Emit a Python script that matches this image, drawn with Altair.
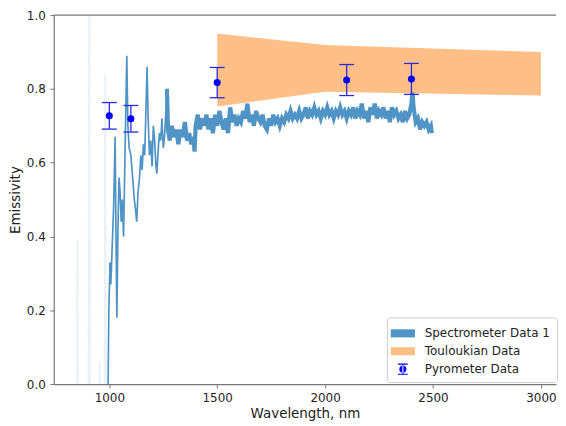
import altair as alt
import pandas as pd

# Spectrometer trace (wavelength nm, emissivity)
spec_wl = [850, 852, 854, 904, 907, 910, 952, 955, 958, 978, 981, 984,
           994, 998, 1003, 1007, 1012, 1020, 1027, 1031, 1035, 1040, 1045, 1050, 1055, 1060,
           1066, 1072, 1081, 1086, 1092, 1100, 1108, 1116, 1122, 1127, 1133, 1140, 1146, 1152,
           1158, 1164, 1170, 1175, 1180, 1186, 1192, 1198, 1204, 1210, 1215, 1220, 1226, 1232,
           1238, 1244, 1250, 1256, 1262, 1267, 1272,
           1280, 1290, 1300, 1310, 1320, 1330, 1340, 1350, 1360, 1370, 1380, 1390, 1395, 1400,
           1410, 1420, 1430, 1440, 1450, 1460, 1470, 1480, 1490, 1500, 1510, 1520, 1530, 1540,
           1550, 1560, 1570, 1580, 1590, 1600, 1610, 1620, 1630, 1640, 1650, 1660, 1670, 1680,
           1690, 1700, 1710, 1720, 1730, 1740, 1750, 1760, 1770, 1780, 1790, 1800, 1810, 1820,
           1830, 1840, 1850, 1860, 1870, 1880, 1890, 1900, 1910, 1920, 1930, 1940, 1950, 1960,
           1970, 1980, 1990, 2000, 2010, 2020, 2030, 2040, 2050, 2060, 2070, 2080, 2090, 2100,
           2110, 2120, 2130, 2140, 2150, 2160, 2170, 2180, 2190, 2200, 2210, 2220, 2230, 2240,
           2250, 2260, 2270, 2280, 2290, 2300, 2310, 2320, 2330, 2340, 2350, 2360, 2370, 2380,
           2390, 2400, 2405, 2410, 2420, 2430, 2440, 2450, 2460, 2470, 2480, 2490, 2495]
spec_val = [-0.05, 0.39, -0.05, -0.05, 1.2, -0.05, -0.05, 0.06, -0.05, -0.05, 0.84, 0.0,
            -0.02, 0.20, 0.33, 0.27, 0.35, 0.48, 0.67, 0.40, 0.18, 0.42, 0.56, 0.52, 0.44, 0.50,
            0.40, 0.60, 0.89, 0.70, 0.64, 0.62, 0.56, 0.50, 0.47, 0.44, 0.52, 0.56, 0.62, 0.58,
            0.65, 0.62, 0.75, 0.86, 0.72, 0.62, 0.66, 0.59, 0.70, 0.66, 0.60, 0.57, 0.63, 0.68,
            0.66, 0.72, 0.64, 0.67, 0.74, 0.80, 0.69,
            0.66, 0.70, 0.67, 0.69, 0.65, 0.69, 0.67, 0.71, 0.66, 0.68, 0.65, 0.67, 0.63, 0.70,
            0.73, 0.69, 0.72, 0.70, 0.73, 0.69, 0.72, 0.68, 0.73, 0.70, 0.74, 0.71, 0.69, 0.72,
            0.68, 0.75, 0.71, 0.73, 0.70, 0.72, 0.71, 0.74, 0.72, 0.76, 0.71, 0.73, 0.70, 0.74,
            0.72, 0.71, 0.73, 0.70, 0.69, 0.72, 0.70, 0.73, 0.71, 0.72, 0.70, 0.72, 0.71, 0.73,
            0.72, 0.74, 0.72, 0.73, 0.72, 0.74, 0.72, 0.73, 0.75, 0.72, 0.74, 0.73, 0.75, 0.73,
            0.74, 0.72, 0.74, 0.73, 0.75, 0.73, 0.74, 0.72, 0.74, 0.73, 0.75, 0.73, 0.74, 0.72,
            0.74, 0.73, 0.75, 0.72, 0.74, 0.73, 0.76, 0.72, 0.74, 0.71, 0.75, 0.73, 0.76, 0.72,
            0.74, 0.73, 0.75, 0.72, 0.74, 0.71, 0.75, 0.73, 0.74, 0.72, 0.73, 0.71, 0.74, 0.72,
            0.73, 0.76, 0.79, 0.75, 0.71, 0.72, 0.69, 0.71, 0.70, 0.71, 0.69, 0.70, 0.68]

# Touloukian band
toul_wl = [1500, 2000, 3000]
toul_lo = [0.752, 0.792, 0.782]
toul_hi = [0.950, 0.919, 0.900]

# Pyrometer points with error bars
pyro_wl = [1000, 1100, 1500, 2100, 2400]
pyro_val = [0.727, 0.719, 0.817, 0.824, 0.827]
pyro_err = [0.036, 0.036, 0.041, 0.042, 0.042]

series_names = ["Spectrometer Data 1", "Touloukian Data", "Pyrometer Data"]
series_colors = ["#4f94c4", "#ffbf86", "#0000ff"]

spec = pd.DataFrame({"wl": spec_wl, "val": spec_val, "series": series_names[0]})
toul = pd.DataFrame({"wl": toul_wl, "val": toul_lo, "hi": toul_hi, "series": series_names[1]})
pyro = pd.DataFrame({"wl": pyro_wl, "val": pyro_val, "series": series_names[2]})
pyro["lo"] = pyro["val"] - pyro_err
pyro["hi"] = pyro["val"] + pyro_err

W, H = 505, 371
FONT = "DejaVu Sans"

xs = alt.Scale(domain=[742.5, 3070], nice=False, zero=False)
ys = alt.Scale(domain=[0, 1], nice=False, zero=False)
xax = alt.Axis(values=[1000, 1500, 2000, 2500, 3000], format="d", title="Wavelength, nm",
               grid=False, titlePadding=3)
yax = alt.Axis(values=[0, 0.2, 0.4, 0.6, 0.8, 1.0], format=".1f", title="Emissivity",
               grid=False, titlePadding=4)

rect_path = "M-1.35,-0.45H1.35V0.45H-1.35Z"
pyro_path = ("M-0.55,-0.62H0.55V-0.5H-0.55Z"
             "M-0.55,0.5H0.55V0.62H-0.55Z"
             "M-0.06,-0.56H0.06V0.56H-0.06Z"
             "M-0.4,0A0.4,0.4 0 1,0 0.4,0A0.4,0.4 0 1,0 -0.4,0Z")

legend = alt.Legend(
    title=None, orient="none", legendX=335, legendY=304,
    symbolSize=324, labelFontSize=12, labelFont=FONT, labelColor="#222",
    padding=7, rowPadding=3, labelOffset=13,
    strokeColor="#cccccc", fillColor="white", cornerRadius=3,
    symbolType=alt.ExprRef(expr="datum.value === 'Pyrometer Data' ? '%s' : '%s'" % (pyro_path, rect_path)),
    symbolOpacity=1, symbolStrokeWidth=0,
)
color = alt.Color("series:N", scale=alt.Scale(domain=series_names, range=series_colors), legend=legend)

X = alt.X("wl:Q", scale=xs, axis=xax)
Y = alt.Y("val:Q", scale=ys, axis=yax)

band = alt.Chart(toul).mark_area(opacity=1).encode(x=X, y=Y, y2="hi:Q", color=color)

faint = alt.Chart(spec).transform_filter("datum.wl < 990").mark_line(
    clip=True, strokeWidth=2, opacity=0.12).encode(x=X, y=Y, color=color)
thin = alt.Chart(spec).transform_filter("datum.wl >= 994 && datum.wl <= 1272").mark_line(
    clip=True, strokeWidth=1.7).encode(x=X, y=Y, color=color)
thick = alt.Chart(spec).transform_filter("datum.wl >= 1267").mark_line(
    clip=True, strokeWidth=4.2, strokeJoin="miter").encode(x=X, y=Y, color=color)

ebar = alt.Chart(pyro).mark_rule(color="#2a2ae0", strokeWidth=1.3).encode(
    x=X, y=alt.Y("lo:Q", scale=ys, axis=yax), y2="hi:Q")
cap_top = alt.Chart(pyro).mark_rule(color="#2a2ae0", strokeWidth=1.3, xOffset=-7.5, x2Offset=7.5).encode(
    x=X, x2="wl:Q", y=alt.Y("hi:Q", scale=ys, axis=yax))
cap_bot = alt.Chart(pyro).mark_rule(color="#2a2ae0", strokeWidth=1.3, xOffset=-7.5, x2Offset=7.5).encode(
    x=X, x2="wl:Q", y=alt.Y("lo:Q", scale=ys, axis=yax))
pts = alt.Chart(pyro).mark_circle(size=50, opacity=1).encode(x=X, y=Y, color=color)

top_spine = alt.Chart(pd.DataFrame({"a": [0]})).mark_rule(color="#777777", strokeWidth=1.2).encode(
    x=alt.value(0), x2=alt.value(W), y=alt.value(0))

chart = alt.layer(band, faint, thin, thick, ebar, cap_top, cap_bot, pts, top_spine).properties(
    width=W, height=H, padding={"left": 0, "top": 0, "right": 0, "bottom": 0}
).configure_view(stroke=None).configure_axis(
    labelFont=FONT, titleFont=FONT, labelFontSize=12, titleFontSize=13.5,
    titleFontWeight="normal", labelColor="#222", titleColor="#222",
    domainColor="#777777", tickColor="#777777", tickSize=4, domainWidth=1.2,
    labelPadding=4.5
)

chart.save("out.html", embed_options={"renderer": "svg", "actions": False})
